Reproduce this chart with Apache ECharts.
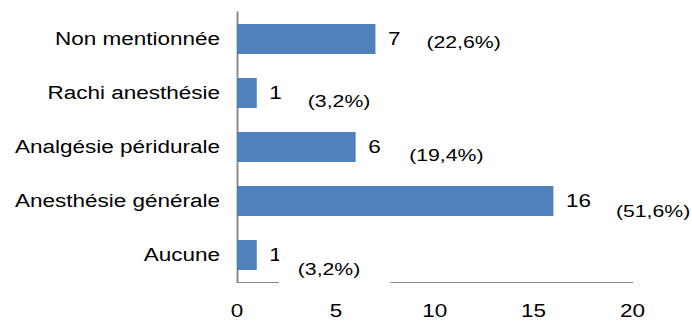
<!DOCTYPE html>
<html>
<head>
<meta charset="utf-8">
<script src="https://cdn.jsdelivr.net/npm/echarts@6/dist/echarts.min.js"></script>
<style>
  html, body { margin: 0; padding: 0; background: #fff; overflow: hidden; }
  #wrap { width: 692px; height: 322px; overflow: hidden; }
  /* chart is laid out narrow and widened, giving the broad lettering */
  #chart { width: 553.6px; height: 322px; transform: scaleX(1.25); transform-origin: 0 0; }
</style>
</head>
<body>
<div id="wrap"><div id="chart"></div></div>
<script>
// Type d'anesthésie (top to bottom)
const categories = ['Non mentionnée', 'Rachi anesthésie', 'Analgésie péridurale', 'Anesthésie générale', 'Aucune'];
const counts = [7, 1, 6, 16, 1];
const percents = [22.6, 3.2, 19.4, 51.6, 3.2];
const xTicks = { min: 0, max: 20, step: 5 };

// placement of the percentage captions relative to the bar end [dx, dy]
const pctOffset = [[40.8, 3], [40.8, 8], [42.8, 8], [50, 10], [17.8, 14]];

const fmtPct = p => '(' + p.toFixed(1).replace('.', ',') + '%)';

const chart = echarts.init(document.getElementById('chart'), null, { renderer: 'svg' });

const pctData = counts.map((v, i) => {
  const item = {
    value: [v, categories[i]],
    label: { offset: pctOffset[i] }
  };
  if (i === categories.length - 1) {
    // white box masks the base line under the last caption
    item.label.backgroundColor = '#ffffff';
    item.label.padding = [6, 24, 6, 15];
  }
  return item;
});

chart.setOption({
  animation: false,
  backgroundColor: '#ffffff',
  textStyle: { fontFamily: '"Liberation Sans", Arial, sans-serif' },
  grid: { left: 189.6, right: 48, top: 12, bottom: 40 },
  xAxis: {
    type: 'value',
    min: xTicks.min,
    max: xTicks.max,
    interval: xTicks.step,
    splitLine: { show: false },
    axisTick: { show: false },
    axisLine: { show: true, lineStyle: { color: '#868686', width: 1 } },
    axisLabel: { color: '#000', fontSize: 18, margin: 20 }
  },
  yAxis: {
    type: 'category',
    data: categories,
    inverse: true,
    axisTick: { show: false },
    axisLine: { show: true, lineStyle: { color: '#868686', width: 1.5 } },
    axisLabel: { color: '#000', fontSize: 18, margin: 13.6 }
  },
  series: [
    {
      type: 'bar',
      data: counts,
      barWidth: 30,
      itemStyle: { color: '#4F81BD' },
      label: {
        show: true,
        position: 'right',
        distance: 10,
        color: '#000',
        fontSize: 18
      },
      z: 2
    },
    {
      type: 'scatter',
      data: pctData,
      symbolSize: 0,
      silent: true,
      itemStyle: { opacity: 1 },
      label: {
        show: true,
        position: 'right',
        distance: 0,
        color: '#000',
        fontSize: 17,
        formatter: p => fmtPct(percents[p.dataIndex])
      },
      z: 5
    }
  ]
});
</script>
</body>
</html>
